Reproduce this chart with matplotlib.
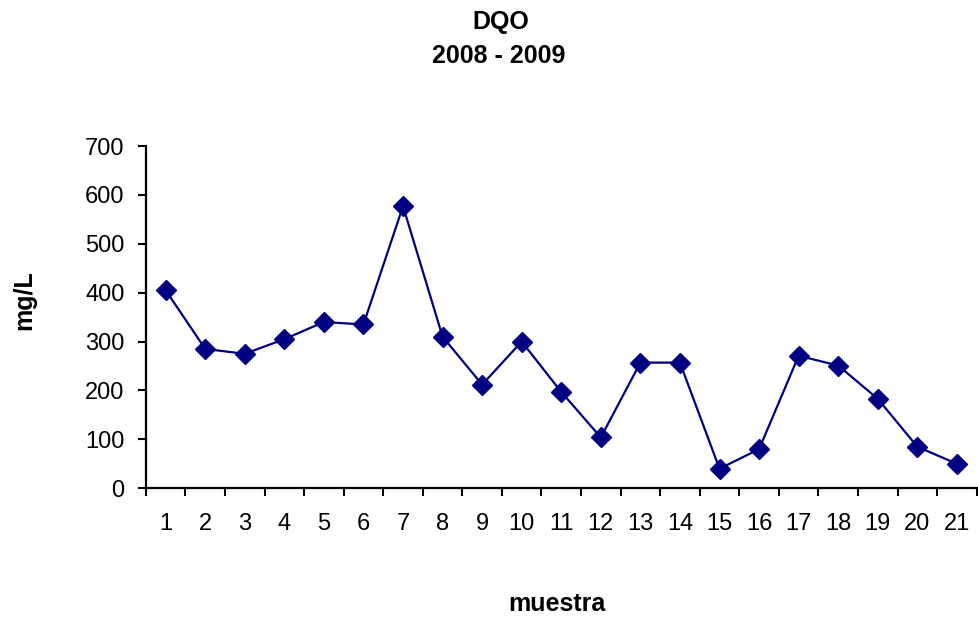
import matplotlib.pyplot as plt

# muestras 1..21, DQO en mg/L
muestra = list(range(1, 22))
dqo = [405, 285, 275, 305, 340, 335, 577, 310, 212, 300, 197,
       104, 257, 257, 40, 80, 271, 251, 183, 85, 50]
y_ticks = [0, 100, 200, 300, 400, 500, 600, 700]

plt.rcParams['font.family'] = ['Liberation Sans', 'DejaVu Sans']

fig = plt.figure(figsize=(9.79, 6.19), dpi=100)
ax = fig.add_axes([0.149, 0.2112, 0.8486, 0.5529])

ax.plot(muestra, dqo, color='#000080', linewidth=1.6,
        marker='D', markersize=10.5, markerfacecolor='#000080',
        markeredgecolor='#000080')

ax.set_xlim(0.5, 21.5)
ax.set_ylim(0, 700)

# etiquetas centradas en cada muestra, marcas entre categorias
ax.set_xticks(muestra, labels=[str(m) for m in muestra])
ax.set_xticks([i + 0.5 for i in range(0, 22)], minor=True)
ax.tick_params(axis='x', which='major', length=0, pad=18, labelsize=17)
ax.tick_params(axis='x', which='minor', direction='out', length=5.8, width=1.5)

ax.set_yticks(y_ticks)
ax.tick_params(axis='y', direction='out', length=5.8, width=1.5, pad=9.5, labelsize=17)

for s in ['top', 'right']:
    ax.spines[s].set_visible(False)
for s in ['left', 'bottom']:
    ax.spines[s].set_linewidth(1.6)

fig.text(0.512, 0.964, 'DQO', ha='center', va='center', fontsize=18, fontweight='bold')
fig.text(0.509, 0.909, '2008 - 2009', ha='center', va='center', fontsize=18, fontweight='bold')
fig.text(0.025, 0.515, 'mg/L', ha='center', va='center', rotation=90, fontsize=18, fontweight='bold')
fig.text(0.5687, 0.024, 'muestra', ha='center', va='center', fontsize=18, fontweight='bold')

fig.savefig('out.png', dpi=100)
